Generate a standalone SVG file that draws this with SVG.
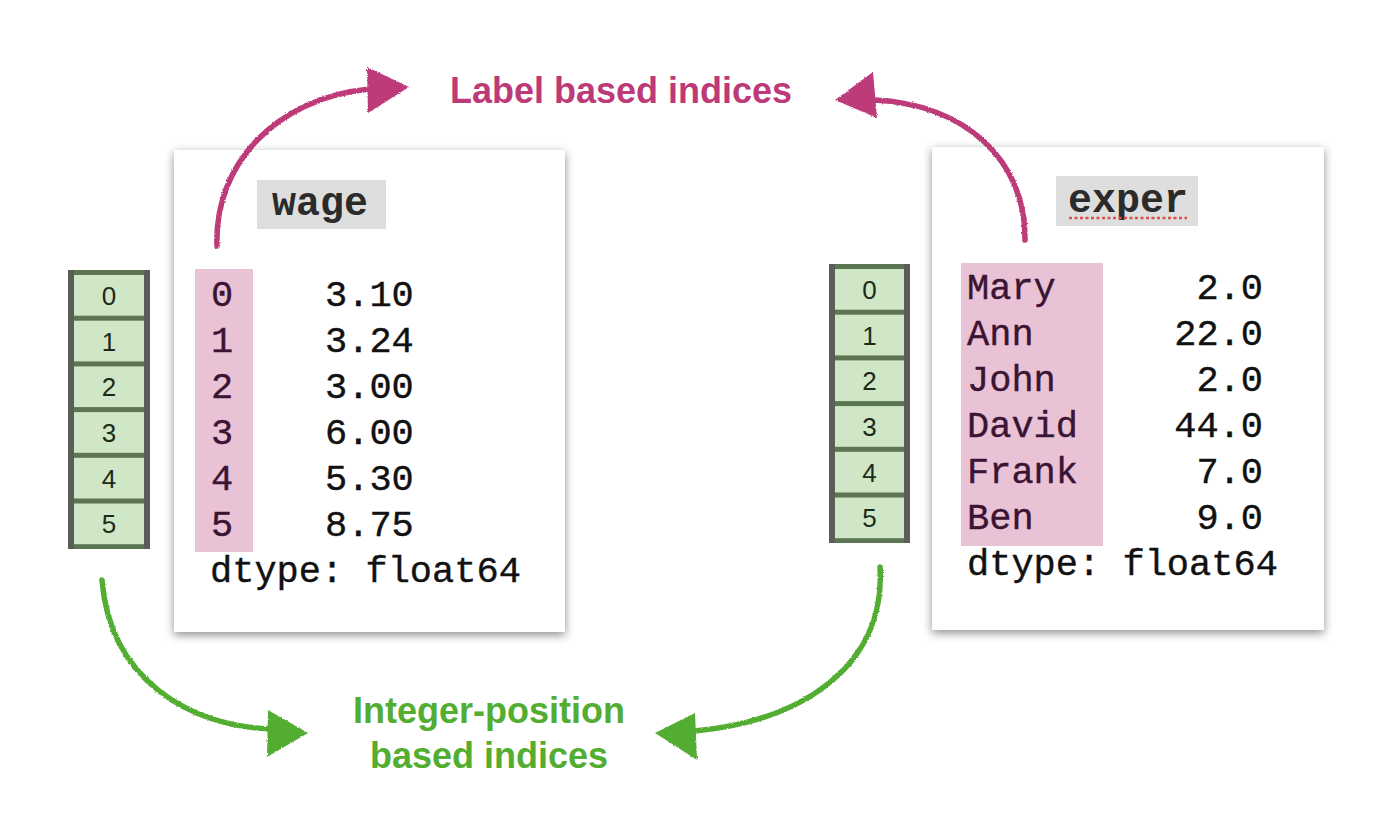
<svg xmlns="http://www.w3.org/2000/svg" width="1392" height="840" viewBox="0 0 1392 840">
<defs>
<filter id="shadow" x="-10%" y="-10%" width="120%" height="120%">
<feDropShadow dx="0" dy="3" stdDeviation="5" flood-color="#000" flood-opacity="0.45"/>
</filter>
<filter id="rough" x="-10%" y="-10%" width="120%" height="120%">
<feTurbulence type="fractalNoise" baseFrequency="0.8" numOctaves="2" seed="3" result="n"/>
<feDisplacementMap in="SourceGraphic" in2="n" scale="2.5" xChannelSelector="R" yChannelSelector="G"/>
</filter>
<style>
.card{fill:#fff;filter:url(#shadow)}
.hdr{fill:#dedede}
.hdrt{font-family:"Liberation Mono","Courier New",monospace;font-weight:bold;font-size:40px;fill:#2b2b2b}
.pink{fill:#eac2d6}
.mono{font-family:"Liberation Mono","Courier New",monospace;font-size:37px;fill:#111;stroke:#111;stroke-width:0.4}
.lbl{fill:#3a1433;stroke:#3a1433}
.stk{fill:#5a5d58}
.stki{fill:#5c7553}
.cell{fill:#cfe6c7}
.cnum{font-family:"Liberation Sans",Arial,sans-serif;font-size:26px;fill:#1d2a1a;text-anchor:middle}
.mag{stroke:#bd3a78;fill:none;stroke-width:5.5;stroke-linecap:round}
.magh{fill:#bd3a78}
.grn{stroke:#52ad31;fill:none;stroke-width:5.5;stroke-linecap:round}
.grnh{fill:#52ad31}
.title{font-family:"Liberation Sans",Arial,sans-serif;font-weight:bold;font-size:36px;text-anchor:middle}
</style>
</defs>
<rect width="1392" height="840" fill="#fff"/>

<g id="wage-card">
<rect class="card" x="174" y="150" width="391" height="482"/>
<rect class="hdr" x="257" y="180" width="129" height="49"/>
<text class="hdrt" x="272" y="215">wage</text>
<rect class="pink" x="195" y="269" width="58" height="283"/>
<g class="mono">
<text class="lbl" x="211" y="306">0</text>
<text class="lbl" x="211" y="352">1</text>
<text class="lbl" x="211" y="398">2</text>
<text class="lbl" x="211" y="444">3</text>
<text class="lbl" x="211" y="490">4</text>
<text class="lbl" x="211" y="536">5</text>
<text x="325" y="306">3.10</text>
<text x="325" y="352">3.24</text>
<text x="325" y="398">3.00</text>
<text x="325" y="444">6.00</text>
<text x="325" y="490">5.30</text>
<text x="325" y="536">8.75</text>
<text x="210" y="582">dtype: float64</text>
</g>
</g>

<g id="exper-card">
<rect class="card" x="932" y="147" width="392" height="483"/>
<rect class="hdr" x="1056" y="176" width="142" height="50"/>
<text class="hdrt" x="1068" y="212">exper</text>
<line x1="1069" y1="218" x2="1187" y2="218" stroke="#d9534f" stroke-width="2.5" stroke-dasharray="3,2.5"/>
<rect class="pink" x="961" y="263" width="142" height="283"/>
<g class="mono">
<text class="lbl" x="967" y="299">Mary</text>
<text class="lbl" x="967" y="345">Ann</text>
<text class="lbl" x="967" y="391">John</text>
<text class="lbl" x="967" y="437">David</text>
<text class="lbl" x="967" y="483">Frank</text>
<text class="lbl" x="967" y="529">Ben</text>
<text x="1263" y="299" text-anchor="end">2.0</text>
<text x="1263" y="345" text-anchor="end">22.0</text>
<text x="1263" y="391" text-anchor="end">2.0</text>
<text x="1263" y="437" text-anchor="end">44.0</text>
<text x="1263" y="483" text-anchor="end">7.0</text>
<text x="1263" y="529" text-anchor="end">9.0</text>
<text x="967" y="575">dtype: float64</text>
</g>
</g>

<g id="left-positions">
<rect class="stk" x="68" y="270" width="82" height="279"/>
<rect class="stki" x="74" y="270" width="70" height="279"/>
<rect class="cell" x="74" y="275" width="70" height="40.7"/>
<rect class="cell" x="74" y="320.7" width="70" height="40.7"/>
<rect class="cell" x="74" y="366.4" width="70" height="40.7"/>
<rect class="cell" x="74" y="412.1" width="70" height="40.7"/>
<rect class="cell" x="74" y="457.8" width="70" height="40.7"/>
<rect class="cell" x="74" y="503.5" width="70" height="40.7"/>
<text class="cnum" x="109" y="305">0</text>
<text class="cnum" x="109" y="351">1</text>
<text class="cnum" x="109" y="396">2</text>
<text class="cnum" x="109" y="442">3</text>
<text class="cnum" x="109" y="488">4</text>
<text class="cnum" x="109" y="533">5</text>
</g>

<g id="right-positions">
<rect class="stk" x="829" y="264" width="81" height="279"/>
<rect class="stki" x="835" y="264" width="69" height="279"/>
<rect class="cell" x="835" y="269" width="69" height="40.7"/>
<rect class="cell" x="835" y="314.7" width="69" height="40.7"/>
<rect class="cell" x="835" y="360.4" width="69" height="40.7"/>
<rect class="cell" x="835" y="406.1" width="69" height="40.7"/>
<rect class="cell" x="835" y="451.8" width="69" height="40.7"/>
<rect class="cell" x="835" y="497.5" width="69" height="40.7"/>
<text class="cnum" x="869.5" y="299">0</text>
<text class="cnum" x="869.5" y="345">1</text>
<text class="cnum" x="869.5" y="390">2</text>
<text class="cnum" x="869.5" y="436">3</text>
<text class="cnum" x="869.5" y="482">4</text>
<text class="cnum" x="869.5" y="527">5</text>
</g>

<g id="connectors" filter="url(#rough)">
<path class="mag" d="M217 246 C214 165 275 98 370 89"/>
<polygon class="magh" points="367,67 409,87 368,113"/>
<path class="mag" d="M1025 240 C1026 160 965 104 874 100"/>
<polygon class="magh" points="835,100 873,72 877,118"/>
<path class="grn" d="M102 580 C110 680 190 726 270 729"/>
<polygon class="grnh" points="268,710 308,733 267,757"/>
<path class="grn" d="M880 567 C886 660 810 720 695 731"/>
<polygon class="grnh" points="655,733 695,713 697,760"/>
</g>

<g id="labels">
<text class="title" x="621" y="103" fill="#bd3a78">Label based indices</text>
<text class="title" x="489" y="723" fill="#52ad31">Integer-position</text>
<text class="title" x="489" y="768" fill="#52ad31">based indices</text>
</g>
</svg>
